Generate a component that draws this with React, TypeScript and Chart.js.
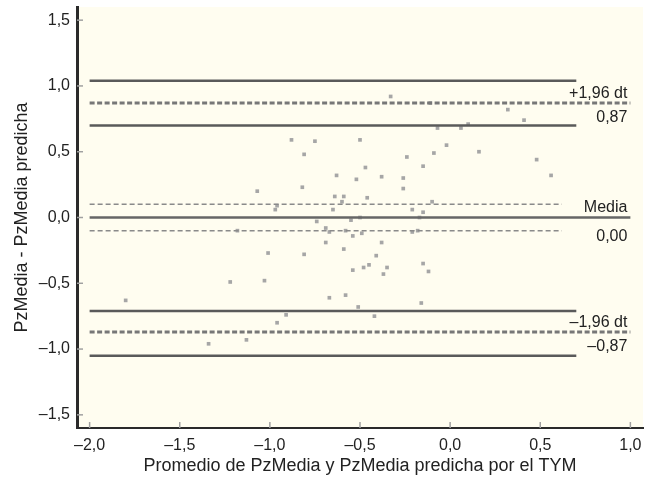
import React, { useEffect, useRef } from "react";
import { Chart, registerables } from "chart.js";

Chart.register(...registerables);

// Bland-Altman scatter: mean of the two measures (x) vs. difference (y)
const meanX = [
  -1.8, -1.22, -1.03, -1.01, -1.18, -1.34, -1.13, -0.96, -1.07, -0.96,
  -0.97, -0.81, -0.69, -0.59, -0.54, -0.54, -0.67, -0.58, -0.91, -0.51,
  -0.65, -0.67, -0.6, -0.88, -0.75, -0.81, -0.82, -0.63, -0.52, -0.5,
  -0.59, -0.64, -0.33, -0.24, -0.47, -0.38, -0.26, -0.26, -0.46, -0.21,
  -0.38, -0.41, -0.48, -0.45, -0.35, -0.37, -0.42, -0.18, 0.32, 0.41,
  -0.07, 0.1, 0.06, -0.02, -0.09, 0.16, -0.15, 0.48, 0.56, -0.1,
  -0.15, -0.11, -0.15, -0.12, -0.16, -0.21, -0.74, -0.55, -0.58, -0.5,
  -0.69, -0.17, -0.49,
];
const diffY = [
  -0.63, -0.49, -0.48, -0.27, -0.1, -0.96, -0.93, -0.8, 0.2, 0.09,
  0.06, -0.28, -0.19, -0.24, -0.14, -0.4, -0.61, -0.59, -0.74, -0.68,
  0.06, -0.11, 0.12, 0.59, 0.58, 0.48, 0.23, 0.32, 0.29, 0.59,
  0.16, 0.16, 0.92, 0.46, 0.38, 0.31, 0.3, 0.22, 0.15, 0.06,
  -0.19, -0.29, -0.38, -0.36, -0.38, -0.43, -0.75, -0.1, 0.82, 0.74,
  0.68, 0.71, 0.68, 0.55, 0.49, 0.5, 0.39, 0.44, 0.32, 0.12,
  0.04, 0.87, -0.35, -0.41, -0.65, -0.11, -0.03, -0.02, -0.1, 0.0,
  -0.08, 0.0, -0.12,
];

// Reference lines
const MEAN_DIFF = 0.0;
const MEAN_BAND = [-0.1, 0.1];
const UPPER_LOA = 0.87;
const UPPER_LOA_CI = [0.7, 1.04];
const LOWER_LOA = -0.87;
const LOWER_LOA_CI = [-1.05, -0.71];
const LINE_START = -2.0;
const CI_END = 0.7;
const LOA_END = 1.0;
const BAND_END = 0.62;

const xTicks = [-2.0, -1.5, -1.0, -0.5, 0.0, 0.5, 1.0];
const yTicks = [-1.5, -1.0, -0.5, 0.0, 0.5, 1.0, 1.5];

const lineLabels = [
  { value: UPPER_LOA, text: "+1,96 dt", side: "above" },
  { value: UPPER_LOA, text: "0,87", side: "below" },
  { value: MEAN_DIFF, text: "Media", side: "above" },
  { value: MEAN_DIFF, text: "0,00", side: "below" },
  { value: LOWER_LOA, text: "\u20131,96 dt", side: "above" },
  { value: LOWER_LOA, text: "\u20130,87", side: "below" },
];

const FONT = "'Liberation Sans', Arial, Helvetica, sans-serif";

const fmt = (v: number) =>
  (v < 0 ? "\u2013" : "") + Math.abs(v).toFixed(1).replace(".", ",");

function hLine(y: number, x0: number, x1: number, color: string, width: number, dash: number[]) {
  return {
    type: "line" as const,
    data: [
      { x: x0, y },
      { x: x1, y },
    ],
    borderColor: color,
    borderWidth: width,
    borderDash: dash,
    pointRadius: 0,
    fill: false,
    tension: 0,
  };
}

const bgPlugin = {
  id: "plotBg",
  beforeDraw(chart: any) {
    const { ctx, chartArea } = chart;
    ctx.save();
    ctx.fillStyle = "#fffdf0";
    ctx.fillRect(chartArea.left, chartArea.top, chartArea.right - chartArea.left, chartArea.bottom - chartArea.top);
    ctx.restore();
  },
  afterDraw(chart: any) {
    const { ctx, chartArea } = chart;
    const xs = chart.scales.x;
    const ys = chart.scales.y;
    ctx.save();
    // inward tick marks
    ctx.strokeStyle = "#a0a0a0";
    ctx.lineWidth = 1.5;
    xTicks.forEach((v) => {
      const px = xs.getPixelForValue(v);
      ctx.beginPath();
      ctx.moveTo(px, chartArea.bottom);
      ctx.lineTo(px, chartArea.bottom - 6);
      ctx.stroke();
    });
    yTicks.forEach((v) => {
      const py = ys.getPixelForValue(v);
      ctx.beginPath();
      ctx.moveTo(chartArea.left, py);
      ctx.lineTo(chartArea.left + 6, py);
      ctx.stroke();
    });
    // line labels
    ctx.fillStyle = "#222";
    ctx.font = `16px ${FONT}`;
    ctx.textAlign = "right";
    ctx.textBaseline = "middle";
    const rx = xs.getPixelForValue(LOA_END) - 3;
    lineLabels.forEach((l) => {
      const py = ys.getPixelForValue(l.value);
      const isMean = l.value === MEAN_DIFF;
      const off = l.side === "above" ? -(isMean ? 10 : 9) : isMean ? 19 : 15;
      ctx.fillText(l.text, rx, py + off);
    });
    ctx.restore();
  },
};

export default function App() {
  const ref = useRef<HTMLCanvasElement | null>(null);

  useEffect(() => {
    if (!ref.current) return;
    const solid = "#5a5a5a";
    const dashed = "#777777";
    const chart = new Chart(ref.current, {
      type: "scatter",
      data: {
        datasets: [
          hLine(UPPER_LOA_CI[1], LINE_START, CI_END, solid, 2.5, []),
          hLine(UPPER_LOA, LINE_START, LOA_END, dashed, 3, [5, 2.5]),
          hLine(UPPER_LOA_CI[0], LINE_START, CI_END, solid, 2.5, []),
          hLine(MEAN_BAND[1], LINE_START, BAND_END, "#8a8a8a", 1.5, [5, 3]),
          hLine(MEAN_DIFF, LINE_START, LOA_END, "#666666", 2.5, []),
          hLine(MEAN_BAND[0], LINE_START, BAND_END, "#8a8a8a", 1.5, [5, 3]),
          hLine(LOWER_LOA_CI[1], LINE_START, CI_END, solid, 2.5, []),
          hLine(LOWER_LOA, LINE_START, LOA_END, dashed, 3, [5, 2.5]),
          hLine(LOWER_LOA_CI[0], LINE_START, CI_END, solid, 2.5, []),
          {
            type: "scatter" as const,
            data: meanX.map((x, i) => ({ x, y: diffY[i] })),
            pointStyle: "rect",
            pointRadius: 2.6,
            backgroundColor: "#a6a6a6",
            borderColor: "#a6a6a6",
            borderWidth: 0,
          } as any,
        ] as any,
      },
      options: {
        animation: false,
        responsive: false,
        devicePixelRatio: 1,
        layout: { padding: { left: 0, top: 7, right: 10, bottom: 0 } },
        plugins: { legend: { display: false }, tooltip: { enabled: false } },
        scales: {
          x: {
            type: "linear",
            min: -2.07,
            max: 1.07,
            afterBuildTicks: (s: any) => {
              s.ticks = xTicks.map((value) => ({ value }));
            },
            afterFit: (s: any) => {
              s.height = 51;
              s.paddingLeft = 0;
              s.paddingRight = 0;
            },
            grid: { display: true, drawOnChartArea: false, drawTicks: false },
            border: { display: true, color: "#2a2a2a", width: 2 },
            ticks: {
              padding: 8,
              autoSkip: false,
              maxRotation: 0,
              color: "#222",
              font: { family: FONT, size: 16 },
              callback: (v: any) => fmt(Number(v)),
            },
            title: {
              display: true,
              text: "Promedio de PzMedia y PzMedia predicha por el TYM",
              color: "#222",
              font: { family: FONT, size: 18 },
              padding: { top: 0, bottom: 2 },
            },
          },
          y: {
            type: "linear",
            min: -1.6,
            max: 1.6,
            afterBuildTicks: (s: any) => {
              s.ticks = yTicks.map((value) => ({ value }));
            },
            afterFit: (s: any) => {
              s.width = 77;
              s.paddingTop = 0;
              s.paddingBottom = 0;
            },
            grid: { display: true, drawOnChartArea: false, drawTicks: false },
            border: { display: true, color: "#2a2a2a", width: 3 },
            ticks: {
              padding: 7,
              color: "#222",
              font: { family: FONT, size: 16 },
              callback: (v: any) => fmt(Number(v)),
            },
            title: {
              display: true,
              text: "PzMedia - PzMedia predicha",
              color: "#222",
              font: { family: FONT, size: 18 },
              padding: { top: 11, bottom: 0 },
            },
          },
        },
      },
      plugins: [bgPlugin],
    });
    return () => chart.destroy();
  }, []);

  return (
    <div style={{ position: "absolute", left: 0, top: 0, width: 653, height: 479, background: "#fff" }}>
      <canvas ref={ref} width={653} height={479} style={{ display: "block" }} />
    </div>
  );
}
